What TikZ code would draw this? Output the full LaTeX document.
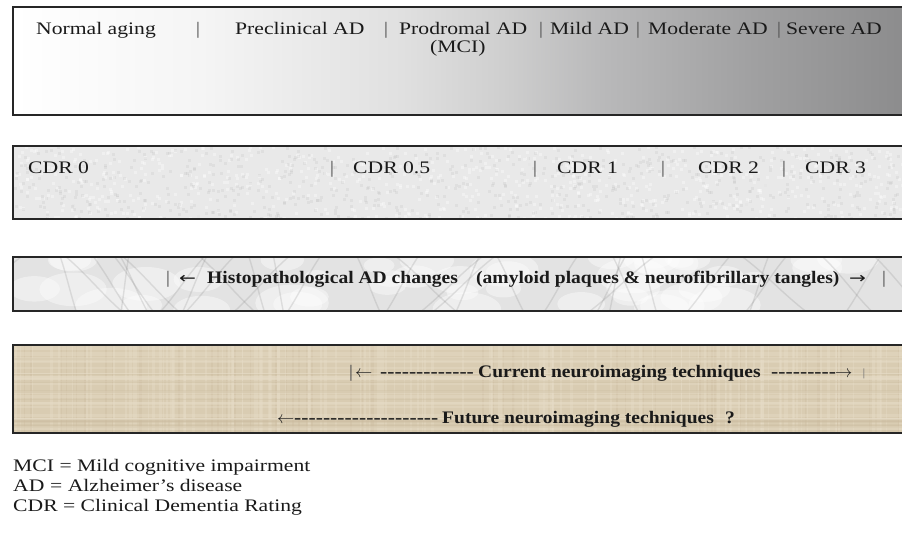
\documentclass[tikz,border=0pt]{standalone}
\usepackage{fontspec}
\setmainfont{Liberation Serif}[FakeStretch=1.23]
\newfontfamily\boldfam{Liberation Serif}[FakeStretch=1.11]
\newfontfamily\hyfam{Liberation Serif}[FakeStretch=1.23]
\newfontfamily\arrowfam{DejaVu Sans}[FakeStretch=1.3]
\definecolor{txt}{HTML}{1A1A1A}
\definecolor{g1}{HTML}{F5F5F5}
\definecolor{g2}{HTML}{E0E0E0}
\definecolor{g3}{HTML}{CFCFCF}
\definecolor{g4}{HTML}{B9B9BA}
\definecolor{g5}{HTML}{A0A0A1}
\definecolor{g6}{HTML}{8C8C8D}
\definecolor{cdrbg}{HTML}{E9E9E9}
\definecolor{marblebg}{HTML}{E3E3E3}
\definecolor{beige}{HTML}{D9CCB2}
\definecolor{beigelt}{HTML}{E6DCC7}
\definecolor{beigedk}{HTML}{CBBC9F}
\pgfdeclarehorizontalshading{stageshade}{100bp}{color(0bp)=(white); color(25bp)=(white); color(35.5bp)=(g1); color(46.8bp)=(g2); color(52.4bp)=(g3); color(58bp)=(g4); color(66.5bp)=(g5); color(75bp)=(g6); color(100bp)=(g6)}
\tikzset{
  lbl/.style={inner sep=0pt, anchor=base west, font=\fontsize{17.6}{20}\selectfont, text=txt},
  blbl/.style={inner sep=0pt, anchor=base west, font=\boldfam\bfseries\fontsize{17.6}{20}\selectfont, text=txt},
  hylbl/.style={inner sep=0pt, anchor=base west, font=\hyfam\bfseries\fontsize{17.6}{20}\selectfont, text=txt},
  sepbar/.style={inner sep=0pt, anchor=base, font=\fontsize{17.6}{20}\selectfont, text=txt!75},
  solidarrow/.style={inner sep=0pt, anchor=base west, font=\arrowfam\fontsize{15.5}{18}\selectfont, text=txt},
  thinarrow/.style={inner sep=0pt, anchor=base west, font=\fontsize{17}{18}\selectfont, text=txt},
  frame/.style={draw=black!85, line width=1.6pt}
}
\begin{document}
\begin{tikzpicture}[x=1pt,y=-1pt]
\useasboundingbox (0,0) rectangle (902,533);
\clip (0,0) rectangle (902,533);
\fill[white] (0,0) rectangle (902,533);
\pgfmathsetseed{42}

% ---------- Box 1: stages ----------
\shade[shading=stageshade] (13,7) rectangle (905,115);
\draw[frame] (13,7) rectangle (910,115);
\node[lbl] (na) at (36,34) {Normal aging};
\node[sepbar] (s1) at (198,34) {|};
\node[lbl] (pc) at (235,34) {Preclinical AD};
\node[sepbar] (s2) at (386,34) {|};
\node[lbl] (pd) at (399,34) {Prodromal AD};
\node[sepbar] (s3) at (541,34) {|};
\node[lbl] (mi) at (550,34) {Mild AD};
\node[sepbar] (s4) at (638,34) {|};
\node[lbl] (mo) at (648,34) {Moderate AD};
\node[sepbar] (s5) at (779,34) {|};
\node[lbl] (se) at (786,34) {Severe AD};
\node[lbl] (mci) at (430,52) {(MCI)};

% ---------- Box 2: CDR ----------
\begin{scope}
\clip (13,146) rectangle (905,219);
\fill[cdrbg] (13,146) rectangle (905,219);
\foreach \k in {1,...,700}{
  \pgfmathsetmacro\xa{13+890*rnd}
  \pgfmathsetmacro\ya{146+73*rnd}
  \fill[white, opacity=0.35] (\xa,\ya) rectangle ++(3,3);
}
\foreach \k in {1,...,700}{
  \pgfmathsetmacro\xa{13+890*rnd}
  \pgfmathsetmacro\ya{146+73*rnd}
  \fill[black, opacity=0.04] (\xa,\ya) rectangle ++(3,3);
}
\end{scope}
\draw[frame] (13,146) rectangle (910,219);
\node[lbl] (c0) at (28,173) {CDR 0};
\node[sepbar] (t1) at (332,173) {|};
\node[lbl] (c05) at (353,173) {CDR 0.5};
\node[sepbar] (t2) at (535,173) {|};
\node[lbl] (c1) at (557,173) {CDR 1};
\node[sepbar] (t3) at (663,173) {|};
\node[lbl] (c2) at (698,173) {CDR 2};
\node[sepbar] (t4) at (784,173) {|};
\node[lbl] (c3) at (805,173) {CDR 3};

% ---------- Box 3: histopathology ----------
\begin{scope}
\clip (13,257) rectangle (905,311);
\fill[marblebg] (13,257) rectangle (905,311);
\foreach \k in {1,...,45}{
  \pgfmathsetmacro\xa{13+890*rnd}
  \pgfmathsetmacro\ya{257+54*rnd}
  \pgfmathsetmacro\rr{12+25*rnd}
  \fill[white, opacity=0.4] (\xa,\ya) ellipse ({\rr} and {\rr*0.5});
}
\foreach \k in {1,...,36}{
  \pgfmathsetmacro\xa{13+890*rnd}
  \pgfmathsetmacro\dx{-70+140*rnd}
  \draw[gray, opacity=0.2, line width=1.4pt] (\xa,255) .. controls (\xa+\dx*0.4,275) and (\xa+\dx*0.6,292) .. (\xa+\dx,313);
}
\end{scope}
\draw[frame] (13,257) rectangle (910,311);
\node[sepbar] (h1) at (168,283) {|};
\node[solidarrow] (ha) at (179,283) {←};
\node[blbl] (ht) at (207,283) {Histopathological AD changes};
\node[blbl] (hp) at (476,283) {(amyloid plaques \& neurofibrillary tangles)};
\node[solidarrow] (hb) at (849,283) {→};
\node[sepbar] (h2) at (884,283) {|};

% ---------- Box 4: neuroimaging ----------
\begin{scope}
\clip (13,345) rectangle (905,433);
\fill[beige] (13,345) rectangle (905,433);
\foreach \k in {1,...,130}{
  \pgfmathsetmacro\xa{13+890*rnd}
  \pgfmathsetmacro\ww{0.8+2.4*rnd}
  \draw[beigelt, opacity=0.4, line width=\ww pt] (\xa,345) -- (\xa,433);
}
\foreach \k in {1,...,50}{
  \pgfmathsetmacro\xa{13+890*rnd}
  \pgfmathsetmacro\ww{0.8+1.8*rnd}
  \draw[beigedk, opacity=0.35, line width=\ww pt] (\xa,345) -- (\xa,433);
}
\foreach \k in {1,...,30}{
  \pgfmathsetmacro\ya{345+88*rnd}
  \pgfmathsetmacro\ww{0.8+2.4*rnd}
  \draw[beigelt, opacity=0.4, line width=\ww pt] (13,\ya) -- (905,\ya);
}
\foreach \k in {1,...,14}{
  \pgfmathsetmacro\ya{345+88*rnd}
  \pgfmathsetmacro\ww{0.8+1.6*rnd}
  \draw[beigedk, opacity=0.3, line width=\ww pt] (13,\ya) -- (905,\ya);
}
\end{scope}
\draw[frame] (13,345) rectangle (910,433);
\node[sepbar] (i1) at (351,377) {|};
\node[thinarrow] (ia) at (355,377) {$\leftarrow$};
\node[hylbl] (id) at (380,377) {-------------};
\node[blbl] (it) at (478,377) {Current neuroimaging techniques};
\node[hylbl] (ie) at (771,377) {---------};
\node[thinarrow] (ib) at (835,377) {$\rightarrow$};
\node[sepbar, font=\fontsize{11}{12}\selectfont, text=black!55] (i2) at (864,376) {|};
\node[thinarrow] (fa) at (277,423) {$\leftarrow$};
\node[hylbl] (fd) at (294,423) {--------------------};
\node[blbl] (ft) at (442,423) {Future neuroimaging techniques};
\node[blbl] (fq) at (725,423) {?};

% ---------- Legend ----------
\node[lbl] (l1) at (13,471) {MCI = Mild cognitive impairment};
\node[lbl] (l2a) at (13,491) {AD};
\node[lbl] (l2b) at (50,491) {= Alzheimer’s disease};
\node[lbl] (l3) at (13,511) {CDR = Clinical Dementia Rating};
\end{tikzpicture}
\end{document}
